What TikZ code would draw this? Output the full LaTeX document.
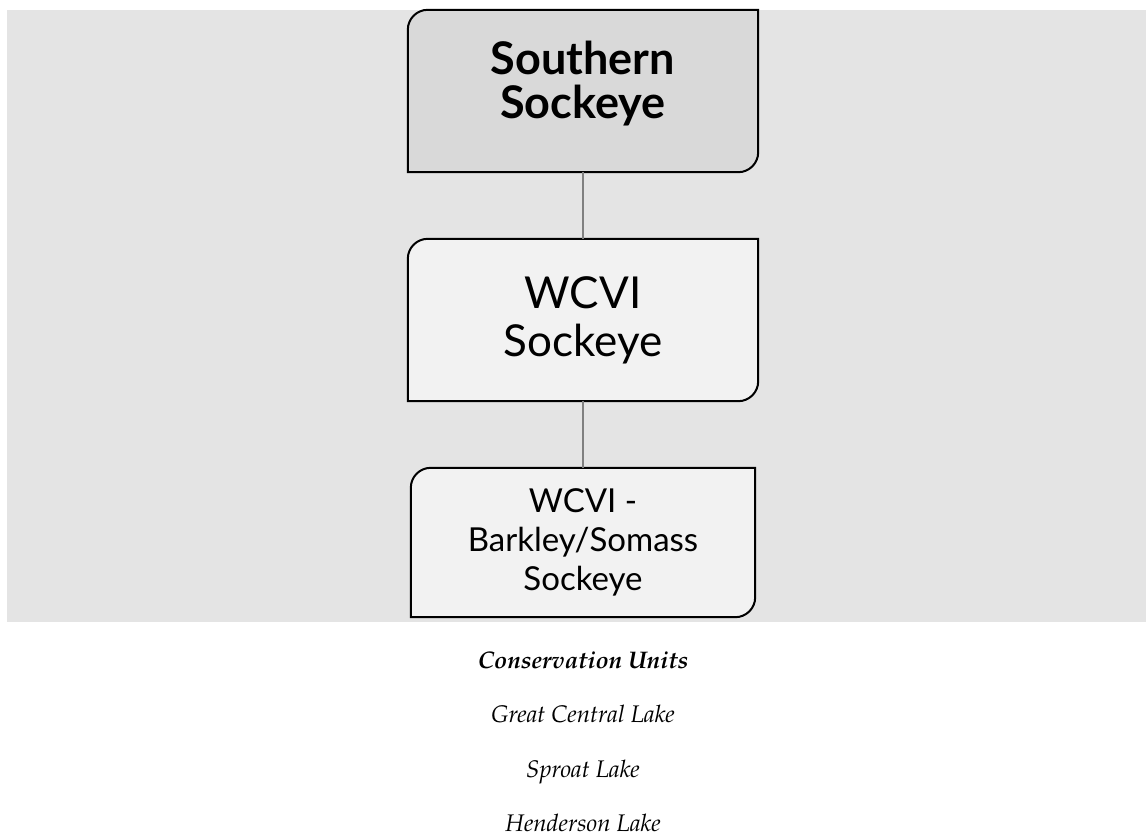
\documentclass[tikz,border=0pt]{standalone}
\usepackage[T1]{fontenc}
\usepackage{fontspec}
\setsansfont{Lato}
\usetikzlibrary{positioning,backgrounds}
\definecolor{panelgray}{RGB}{228,228,228}
\definecolor{topfill}{RGB}{217,217,217}
\definecolor{boxfill}{RGB}{242,242,242}
\definecolor{linkgray}{RGB}{128,128,128}
\newcommand{\palit}{\fontencoding{T1}\fontfamily{ppl}\fontshape{it}}
% box with rounded top-left and bottom-right corners
\newcommand{\unitshape}[2]{%
  \path[draw=black, line width=2pt, fill=#2] (#1.south west) -- ([yshift=-20pt]#1.north west)
    arc[start angle=180, end angle=90, radius=20pt] -- (#1.north east)
    -- ([yshift=20pt]#1.south east) arc[start angle=0, end angle=-90, radius=20pt] -- cycle;}

\begin{document}
\begin{tikzpicture}[x=1pt, y=-1pt,
  unit/.style={minimum width=350pt, minimum height=162pt, inner sep=0pt, align=center},
  link/.style={draw=linkgray, line width=1.6pt},
  cu/.style={anchor=base, font=\palit\fontsize{24}{27}\selectfont}]
  \useasboundingbox (0,0) rectangle (1146,831);

  \node[unit] (south) at (583,91) {};
  \node[align=center, font=\sffamily\bfseries\fontsize{45}{44}\selectfont] (southtxt) at (583,84) {Southern\\Sockeye};
  \node[unit, font=\sffamily\fontsize{44}{48}\selectfont] (wcvi) at (583,320) {WCVI\\Sockeye};
  \node[unit, minimum width=344pt, minimum height=149pt, font=\sffamily\fontsize{33}{39}\selectfont] (barkley) at (583,542.5) {WCVI -\\Barkley/Somass\\Sockeye};

  \begin{scope}[on background layer]
    \fill[panelgray] (7,10) rectangle (1146,622);
    \unitshape{south}{topfill}
    \unitshape{wcvi}{boxfill}
    \unitshape{barkley}{boxfill}
  \end{scope}

  \draw[link] (south) -- (wcvi);
  \draw[link] (wcvi) -- (barkley);

  % conservation units
  \node[cu, font=\palit\bfseries\fontsize{24}{27}\selectfont] (cuhead) at (583,668) {Conservation Units};
  \node[cu] (gcl) at (583,722) {Great Central Lake};
  \node[cu] (spl) at (583,777) {Sproat Lake};
  \node[cu] (hdl) at (583,831) {Henderson Lake};
\end{tikzpicture}
\end{document}
